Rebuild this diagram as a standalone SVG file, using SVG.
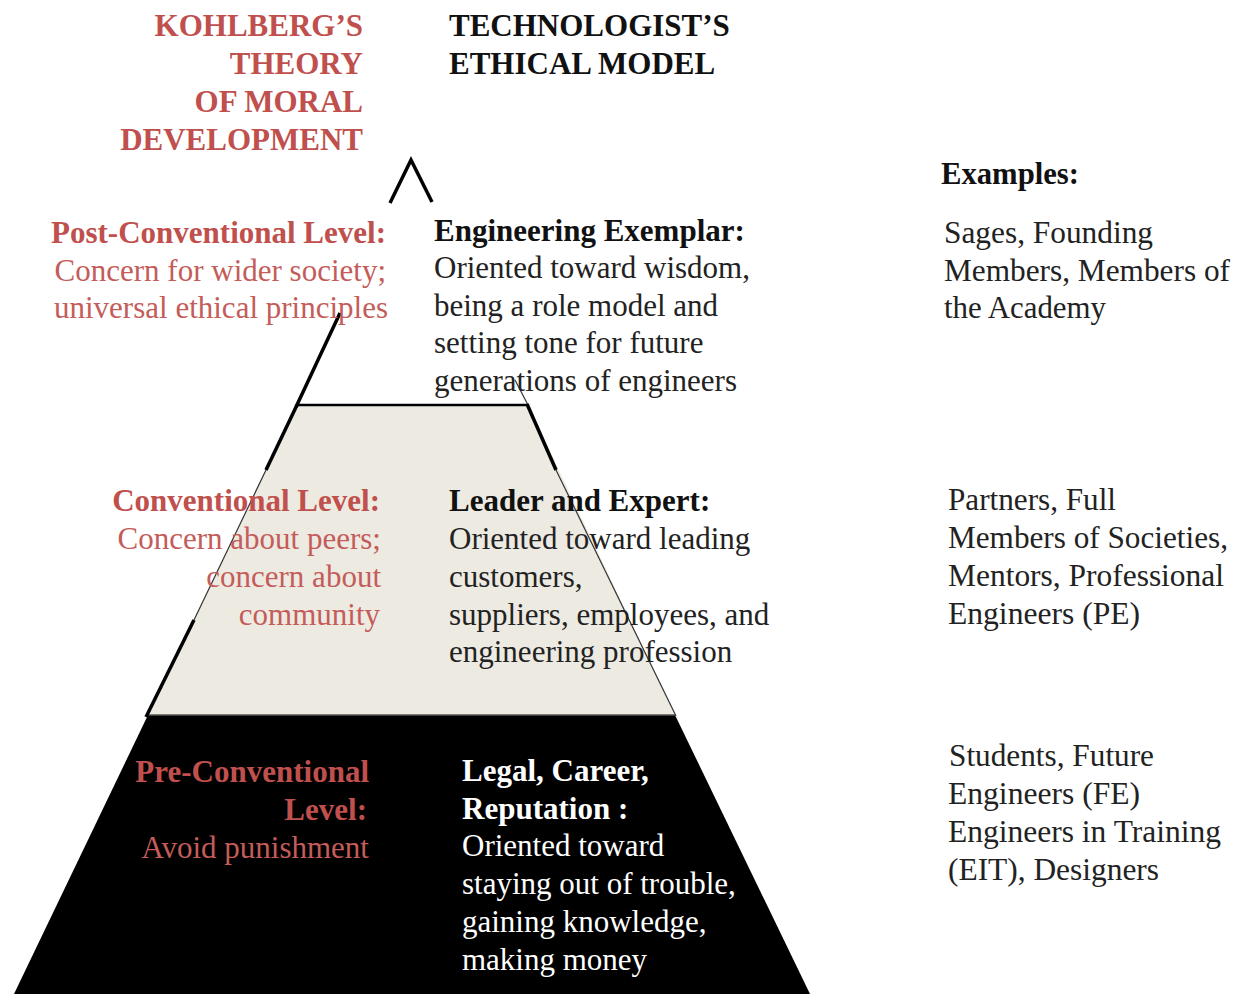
<svg xmlns="http://www.w3.org/2000/svg" width="1240" height="994" viewBox="0 0 1240 994">
<style>
  text { font-family: "Liberation Serif", "Times New Roman", serif; font-size: 31px; }
  .b { font-weight: bold; }
  .red { fill: #C0504D; }
  .redl { fill: #C45C5A; }
  .blk { fill: #111111; }
  .wht { fill: #FFFFFF; }
  .dk { fill: #222222; }
  .end { text-anchor: end; }
  .edge { stroke: #000; stroke-width: 3.5; fill: none; stroke-linecap: butt; }
  .thin { stroke: #333; stroke-width: 1.2; fill: none; }
</style>
<rect width="1240" height="994" fill="#FFFFFF"/>

<g id="pyramid">
  <polygon points="148,715 675,715 810,994 14,994" fill="#000000"/>
  <polygon points="297,405 528,405 675,715 148,715" fill="#EDEAE2"/>
  <line x1="297" y1="405" x2="528" y2="405" stroke="#000" stroke-width="2.5"/>
  <line x1="148" y1="715" x2="675" y2="715" stroke="#555" stroke-width="1.5"/>
  <polyline class="edge" points="390,203 411,160 432,202"/>
  <line class="edge" x1="340" y1="313" x2="296" y2="407"/>
  <line class="edge" x1="297" y1="405" x2="266" y2="470"/>
  <line class="thin" x1="266" y1="470" x2="194" y2="620"/>
  <line class="edge" x1="194" y1="620" x2="146" y2="717"/>
  <line class="thin" x1="515" y1="380" x2="528" y2="405"/>
  <line class="edge" x1="527" y1="404" x2="556" y2="470"/>
  <line class="thin" x1="556" y1="470" x2="676" y2="716"/>
</g>

<g id="titles">
  <text class="b red end" x="363" y="36">KOHLBERG’S</text>
  <text class="b red end" x="363" y="74">THEORY</text>
  <text class="b red end" x="363" y="112">OF MORAL</text>
  <text class="b red end" x="363" y="150">DEVELOPMENT</text>
  <text class="b blk" x="449" y="36">TECHNOLOGIST’S</text>
  <text class="b blk" x="449" y="74">ETHICAL MODEL</text>
</g>

<g id="post-conventional">
  <text class="b red end" x="386" y="243">Post-Conventional Level:</text>
  <text class="redl end" x="386" y="281">Concern for wider society;</text>
  <text class="redl end" x="388" y="318">universal ethical principles</text>
</g>

<g id="engineering-exemplar">
  <text class="b blk" x="434" y="241">Engineering Exemplar:</text>
  <text class="dk" x="434" y="278">Oriented toward wisdom,</text>
  <text class="dk" x="434" y="316">being a role model and</text>
  <text class="dk" x="434" y="353">setting tone for future</text>
  <text class="dk" x="434" y="391">generations of engineers</text>
</g>

<g id="conventional">
  <text class="b red end" x="380" y="511">Conventional Level:</text>
  <text class="redl end" x="381" y="549">Concern about peers;</text>
  <text class="redl end" x="381" y="587">concern about</text>
  <text class="redl end" x="380" y="625">community</text>
</g>

<g id="leader-expert">
  <text class="b blk" x="449" y="511">Leader and Expert:</text>
  <text class="dk" x="449" y="549">Oriented toward leading</text>
  <text class="dk" x="449" y="587">customers,</text>
  <text class="dk" x="449" y="625">suppliers, employees, and</text>
  <text class="dk" x="449" y="662">engineering profession</text>
</g>

<g id="pre-conventional">
  <text class="b red end" x="369" y="782">Pre-Conventional</text>
  <text class="b red end" x="367" y="820">Level:</text>
  <text class="redl end" x="369" y="858">Avoid punishment</text>
</g>

<g id="legal-career">
  <text class="b wht" x="462" y="781">Legal, Career,</text>
  <text class="b wht" x="462" y="819">Reputation :</text>
  <text class="wht" x="462" y="856">Oriented toward</text>
  <text class="wht" x="462" y="894">staying out of trouble,</text>
  <text class="wht" x="462" y="932">gaining knowledge,</text>
  <text class="wht" x="462" y="970">making money</text>
</g>

<g id="examples">
  <text class="b blk" x="941" y="184" textLength="138" lengthAdjust="spacingAndGlyphs">Examples:</text>
  <text class="dk" x="944" y="243" font-size="28" textLength="209" lengthAdjust="spacingAndGlyphs">Sages, Founding</text>
  <text class="dk" x="944" y="281" font-size="28" textLength="286" lengthAdjust="spacingAndGlyphs">Members, Members of</text>
  <text class="dk" x="944" y="318" font-size="28" textLength="162" lengthAdjust="spacingAndGlyphs">the Academy</text>
  <text class="dk" x="948" y="510" font-size="28" textLength="168" lengthAdjust="spacingAndGlyphs">Partners, Full</text>
  <text class="dk" x="948" y="548" font-size="28" textLength="280" lengthAdjust="spacingAndGlyphs">Members of Societies,</text>
  <text class="dk" x="948" y="586" font-size="28" textLength="276" lengthAdjust="spacingAndGlyphs">Mentors, Professional</text>
  <text class="dk" x="948" y="624" font-size="28" textLength="192" lengthAdjust="spacingAndGlyphs">Engineers (PE)</text>
  <text class="dk" x="949" y="766" font-size="28" textLength="205" lengthAdjust="spacingAndGlyphs">Students, Future</text>
  <text class="dk" x="948" y="804" font-size="28" textLength="192" lengthAdjust="spacingAndGlyphs">Engineers (FE)</text>
  <text class="dk" x="948" y="842" font-size="28" textLength="273" lengthAdjust="spacingAndGlyphs">Engineers in Training</text>
  <text class="dk" x="948" y="880" font-size="28" textLength="211" lengthAdjust="spacingAndGlyphs">(EIT), Designers</text>
</g>
</svg>
